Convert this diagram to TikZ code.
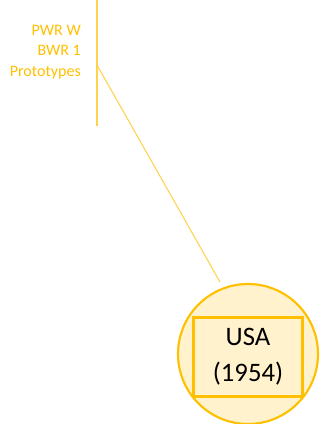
\documentclass[tikz,border=0pt]{standalone}
\usepackage{fontspec}
\setmainfont{Carlito}
\definecolor{gold}{HTML}{FFC000}
\definecolor{lightgold}{HTML}{FFD24D}
\definecolor{cream}{HTML}{FFF2CC}
\begin{document}
\begin{tikzpicture}[x=0.75pt,y=-0.75pt,
  timeline/.style={draw=lightgold,line width=1.5pt},
  link/.style={draw=lightgold,line width=0.8pt},
  country/.style={circle,draw=gold,line width=1.6pt,fill=cream,minimum size=105pt,inner sep=0pt},
  countrybox/.style={draw=gold,line width=2.2pt,minimum width=82pt,minimum height=59pt,align=center,font=\fontsize{20}{27}\selectfont,inner sep=0pt},
  tag/.style={text=gold,align=right,anchor=east,font=\fontsize{12}{15.5}\selectfont,inner sep=0pt}]
\useasboundingbox (0,0) rectangle (325,424);
% vertical timeline bar
\coordinate (top) at (97,0);
\coordinate (bottom) at (97,126);
\coordinate (branch) at (97,65);
\draw[timeline] (top) -- (bottom);
% reactor types listed left of the bar
\node[tag] (types) at (81,52) {PWR W\\BWR 1\\Prototypes};
% country circle with its framed label
\node[country] (usa) at (248,354) {};
\node[countrybox] (usalabel) at (248,357) {USA\\(1954)};
\coordinate (linkend) at (220,282);
\draw[link] (branch) -- (linkend);
\end{tikzpicture}
\end{document}
